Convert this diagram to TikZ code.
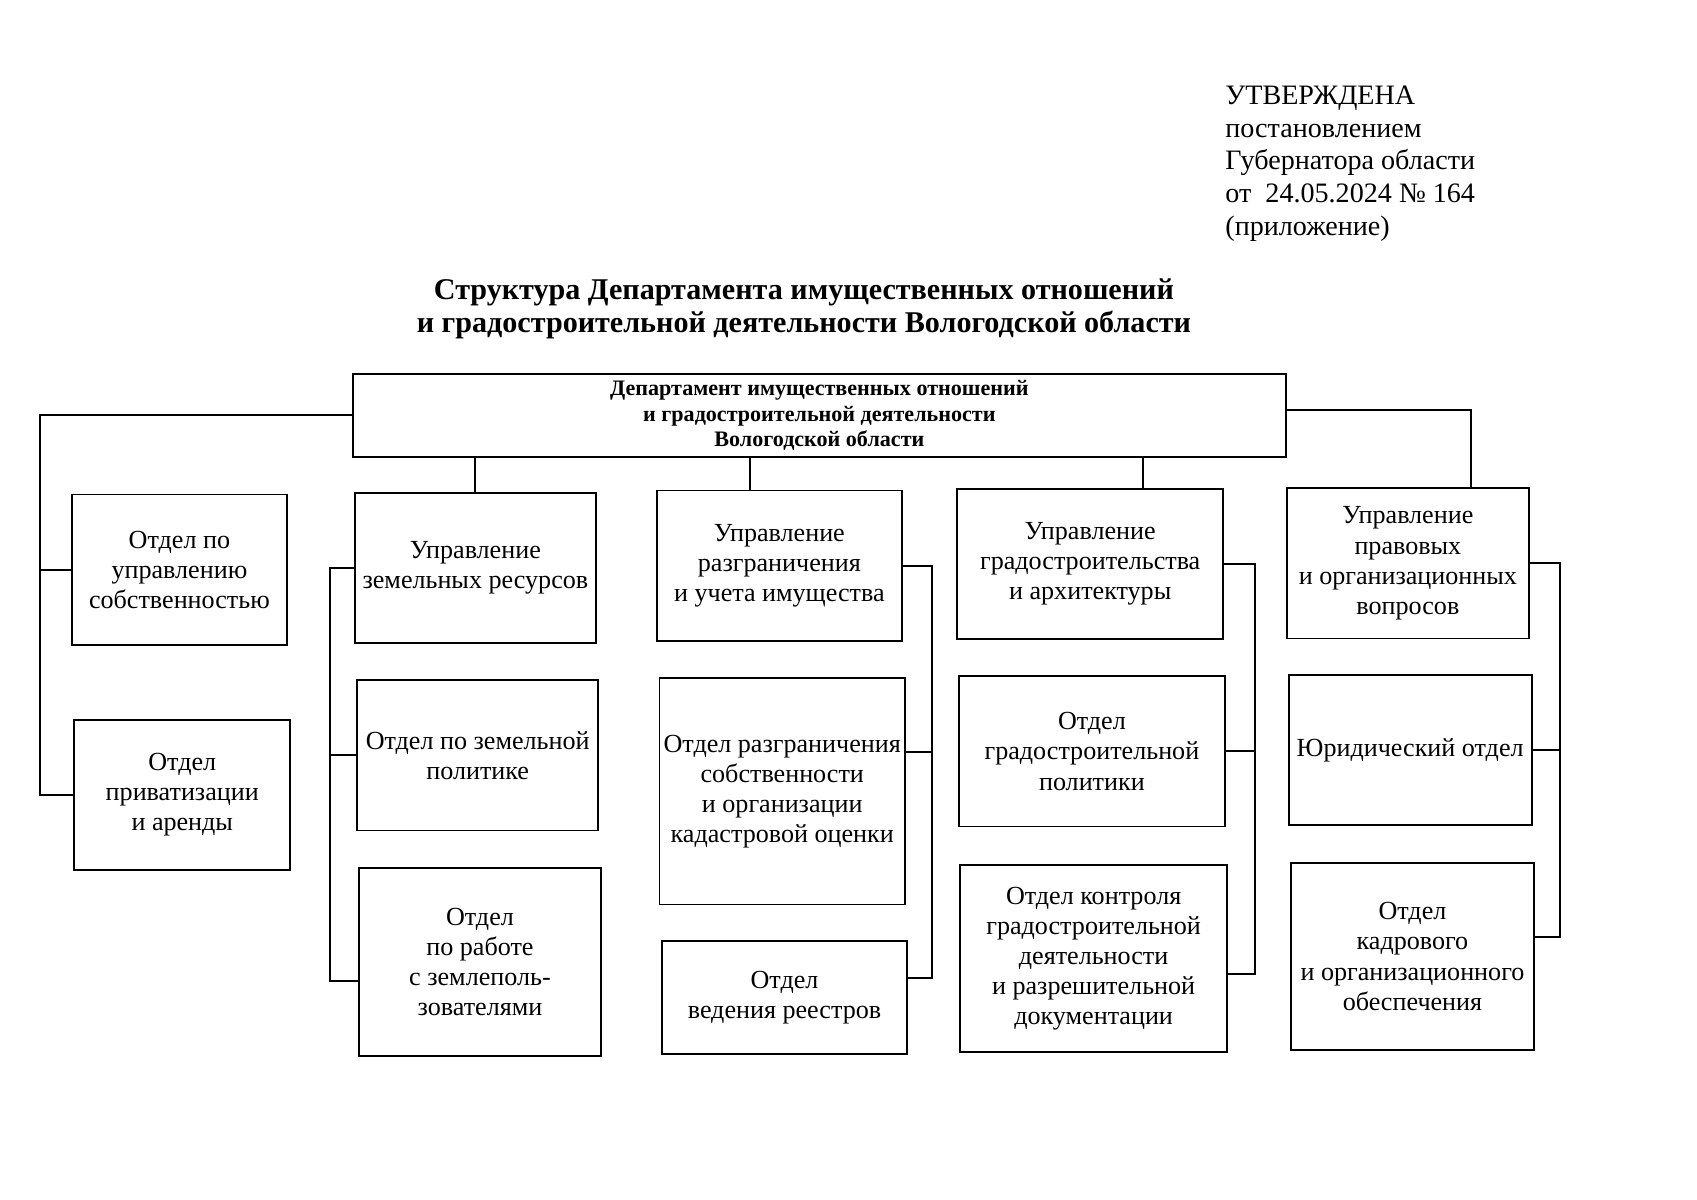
\documentclass[tikz,border=0pt]{standalone}
\usepackage{fontspec}
\setmainfont{Liberation Serif}

\begin{document}
\begin{tikzpicture}[
  unit/.style     = {draw, line width=0.9pt, align=center, inner sep=2pt,
                     minimum height=2.63cm,
                     font=\fontsize{13}{15}\selectfont},
  head/.style     = {draw, line width=0.9pt, align=center,
                     minimum width=16.33cm, minimum height=1.38cm,
                     font=\fontsize{11}{12.6}\selectfont\bfseries},
  doctitle/.style = {align=center, font=\fontsize{15}{16.6}\selectfont\bfseries},
  stamp/.style    = {anchor=north west, align=left, inner sep=0pt,
                     font=\fontsize{14}{16.4}\selectfont},
  link/.style     = {line width=0.9pt},
]
\useasboundingbox (0,0) rectangle (29.7,21);

\node[stamp] (approval) at (21.44,19.51) {УТВЕРЖДЕНА\\ постановлением\\
  Губернатора области\\ от\ \ 24.05.2024 № 164\\ (приложение)};

\node[doctitle] (title) at (14.07,15.60)
  {Структура Департамента имущественных отношений\\
   и градостроительной деятельности Вологодской области};

\node[head] (dept) at (14.34,13.73) {Департамент имущественных отношений\\
  и градостроительной деятельности\\ Вологодской области};

% first column
\node[unit, minimum width=3.77cm] (sobst) at (3.14,11.03)
  {Отдел по\\ управлению\\ собственностью};
\node[unit, minimum width=3.78cm] (priv) at (3.19,7.09)
  {Отдел\\ приватизации\\ и аренды};

% land resources
\node[unit, minimum width=4.22cm] (zemres) at (8.32,11.06)
  {Управление\\ земельных ресурсов};
\node[unit, minimum width=4.22cm] (zempol) at (8.36,7.78)
  {Отдел по земельной\\ политике};
\node[unit, minimum width=4.24cm, minimum height=3.29cm] (zemlep) at (8.40,4.16)
  {Отдел\\ по работе\\ с землеполь-\\ зователями};

% property
\node[unit, minimum width=4.29cm] (razgr) at (13.64,11.10)
  {Управление\\ разграничения\\ и учета имущества};
\node[unit, minimum width=4.29cm, minimum height=3.96cm] (kadastr) at (13.69,7.15)
  {Отдел разграничения\\ собственности\\ и организации\\ кадастровой оценки};
\node[unit, minimum width=4.29cm, minimum height=1.98cm] (reestr) at (13.73,3.54)
  {Отдел\\ ведения реестров};

% town planning
\node[unit, minimum width=4.66cm] (grad) at (19.08,11.13)
  {Управление\\ градостроительства\\ и архитектуры};
\node[unit, minimum width=4.66cm] (gradpol) at (19.11,7.85)
  {Отдел\\ градостроительной\\ политики};
\node[unit, minimum width=4.67cm, minimum height=3.27cm] (kontr) at (19.14,4.22)
  {Отдел контроля\\ градостроительной\\ деятельности\\ и разрешительной\\ документации};

% legal
\node[unit, minimum width=4.24cm] (prav) at (24.64,11.14)
  {Управление\\ правовых\\ и организационных\\ вопросов};
\node[unit, minimum width=4.25cm] (yur) at (24.68,7.87)
  {Юридический отдел};
\node[unit, minimum width=4.25cm, minimum height=3.27cm] (kadr) at (24.72,4.26)
  {Отдел\\ кадрового\\ и организационного\\ обеспечения};

%% buses
\coordinate (abus) at (0.70,11);
\coordinate (bbus) at (5.78,11);
\coordinate (cbus) at (16.31,11);
\coordinate (dbus) at (21.96,11);
\coordinate (ebus) at (27.30,11);

\coordinate (zemlepin)  at ([yshift=-0.33cm]zemlep.west);
\coordinate (kadastrin) at ([yshift=0.69cm]kadastr.east);
\coordinate (reestrin)  at ([yshift=0.34cm]reestr.east);
\coordinate (kontrin)   at ([yshift=-0.27cm]kontr.east);
\coordinate (kadrin)    at ([yshift=0.34cm]kadr.east);

\coordinate (razgrtop) at ([xshift=-0.51cm]razgr.north);
\coordinate (gradtop)  at ([xshift=0.92cm]grad.north);
\coordinate (pravtop)  at ([xshift=1.10cm]prav.north);

%% links
\draw[link] (dept.west) -| (abus |- priv.west) -- (priv.west);
\draw[link] (abus |- sobst.west) -- (sobst.west);

\draw[link] (dept.south -| zemres.north) -- (zemres.north);
\draw[link] (dept.south -| razgrtop) -- (razgrtop);
\draw[link] (dept.south -| gradtop) -- (gradtop);
\draw[link] ([yshift=0.1cm]dept.east) -| (pravtop);

\draw[link] (zemres.west) -| (bbus |- zemlepin) -- (zemlepin);
\draw[link] (bbus |- zempol.west) -- (zempol.west);

\draw[link] (razgr.east) -| (cbus |- reestrin) -- (reestrin);
\draw[link] (cbus |- kadastrin) -- (kadastrin);

\draw[link] (grad.east) -| (dbus |- kontrin) -- (kontrin);
\draw[link] (dbus |- gradpol.east) -- (gradpol.east);

\draw[link] (prav.east) -| (ebus |- kadrin) -- (kadrin);
\draw[link] (ebus |- yur.east) -- (yur.east);

\end{tikzpicture}
\end{document}
